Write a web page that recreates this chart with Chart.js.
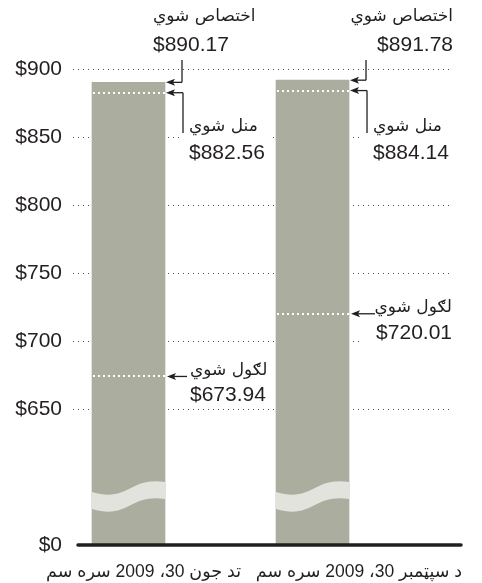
<!DOCTYPE html>
<html lang="ps">
  <head>
    <meta charset="utf-8">
    <title>Budget chart</title>
    <script src="https://cdn.jsdelivr.net/npm/chart.js@4.4.1/dist/chart.umd.min.js"></script>
    <style>
      html, body { margin: 0; padding: 0; background: #fff; }
      canvas { display: block; }
    </style>
  </head>
  <body>
    <canvas id="myChart" width="482" height="583"></canvas>
    <script>
      // data
      var dates = ['تد جون 30، 2009 سره سم', 'د سپټمبر 30، 2009 سره سم'];
      var allocated = [890.17, 891.78];   // اختصاص شوي
      var accepted = [882.56, 884.14];    // منل شوي
      var spent = [673.94, 720.01];       // لګول شوي
      var seriesNames = ['اختصاص شوي', 'منل شوي', 'لګول شوي'];
      var yMin = 550;   // shown as $0 (broken axis)
      var yMax = 900;

      var ink = '#231f20';
      var barColor = '#abae9e';
      var numFont = '21px "Liberation Sans", Arial, sans-serif';
      var arFont = '17px "DejaVu Sans", "Liberation Sans", sans-serif';

      function money(v) { return '$' + v.toFixed(2); }

      function arrow(ctx, tipX, y, fromX) {
        ctx.beginPath();
        ctx.moveTo(fromX, y);
        ctx.lineTo(tipX + 6, y);
        ctx.stroke();
        ctx.beginPath();
        ctx.moveTo(tipX, y);
        ctx.lineTo(tipX + 9, y - 3.5);
        ctx.lineTo(tipX + 7, y);
        ctx.lineTo(tipX + 9, y + 3.5);
        ctx.closePath();
        ctx.fill();
      }

      // text block, two lines, with white box behind so gridlines stop
      function label(ctx, lines, x, ys, align, boxPad) {
        ctx.font = arFont;
        var w1 = ctx.measureText(lines[0]).width;
        ctx.font = numFont;
        var w2 = ctx.measureText(lines[1]).width;
        var w = Math.max(w1, w2);
        var left = align === 'left' ? x : x - w;
        ctx.fillStyle = '#fff';
        ctx.fillRect(left - boxPad[0], ys[0] - 12, w + boxPad[0] + boxPad[1], ys[1] - ys[0] + 24);
        ctx.fillStyle = ink;
        ctx.textAlign = align;
        ctx.textBaseline = 'middle';
        ctx.font = arFont;
        ctx.fillText(lines[0], x, ys[0]);
        ctx.font = numFont;
        ctx.fillText(lines[1], x, ys[1]);
      }

      var annotate = {
        id: 'annotate',
        afterDatasetsDraw: function(chart) {
          var ctx = chart.ctx;
          var y = chart.scales.y;
          var area = chart.chartArea;
          var meta = chart.getDatasetMeta(0);
          var base = y.getPixelForValue(yMin);
          ctx.save();

          meta.data.forEach(function(bar, i) {
            var half = bar.width / 2;
            var L = bar.x - half, R = bar.x + half, w = R - L;

            // white dotted lines inside bars
            ctx.strokeStyle = '#fff';
            ctx.lineWidth = 2;
            ctx.setLineDash([2, 3]);
            [accepted[i], spent[i]].forEach(function(v) {
              var py = Math.round(y.getPixelForValue(v));
              ctx.beginPath();
              ctx.moveTo(L + 1, py);
              ctx.lineTo(R, py);
              ctx.stroke();
            });
            ctx.setLineDash([]);

            // axis break wave
            var t = 17;
            ctx.fillStyle = '#e1e3dc';
            ctx.beginPath();
            ctx.moveTo(L, base - 53);
            ctx.bezierCurveTo(L + 0.5 * w, base - 42, L + 0.5 * w, base - 68, R, base - 63);
            ctx.lineTo(R, base - 63 + t);
            ctx.bezierCurveTo(L + 0.5 * w, base - 68 + t, L + 0.5 * w, base - 42 + t, L, base - 53 + t);
            ctx.closePath();
            ctx.fill();
          });

          ctx.strokeStyle = ink;
          ctx.fillStyle = ink;
          ctx.lineWidth = 1.3;

          meta.data.forEach(function(bar, i) {
            var R = bar.x + bar.width / 2;
            var pHigh = y.getPixelForValue(allocated[i]);
            var pAvg = y.getPixelForValue(accepted[i]);
            var pLow = y.getPixelForValue(spent[i]);
            var topY = area.top;

            // allocated
            ctx.strokeStyle = ink;
            ctx.fillStyle = ink;
            ctx.beginPath();
            ctx.moveTo(R + 17, topY - 9);
            ctx.lineTo(R + 17, pHigh);
            ctx.stroke();
            arrow(ctx, R + 1, pHigh, R + 17);
            if (i === 0) {
              label(ctx, [seriesNames[0], money(allocated[i])], R - 12, [topY - 52, topY - 24], 'left', [0, 0]);
            } else {
              label(ctx, [seriesNames[0], money(allocated[i])], area.right + 1, [topY - 52, topY - 24], 'right', [0, 0]);
            }

            // accepted
            ctx.strokeStyle = ink;
            ctx.fillStyle = ink;
            label(ctx, [seriesNames[1], money(accepted[i])], R + 24, [topY + 58, topY + 84], 'left', [10, i === 0 ? 5 : 30]);
            ctx.strokeStyle = ink;
            ctx.fillStyle = ink;
            ctx.beginPath();
            ctx.moveTo(R + 18, pAvg);
            ctx.lineTo(R + 18, topY + 64);
            ctx.stroke();
            arrow(ctx, R + 1, pAvg, R + 18);

            // spent
            var ys = [pLow - 6, pLow + 19];
            if (i === 0) {
              label(ctx, [seriesNames[2], money(spent[i])], R + 25, ys, 'left', [4, 5]);
              ctx.strokeStyle = ink;
              ctx.fillStyle = ink;
              arrow(ctx, R + 2, pLow, R + 22);
            } else {
              label(ctx, [seriesNames[2], money(spent[i])], area.right, ys, 'right', [12, 2]);
              ctx.strokeStyle = ink;
              ctx.fillStyle = ink;
              arrow(ctx, R + 2, pLow, R + 26);
            }

            // category label under the bar (right aligned)
            ctx.fillStyle = ink;
            ctx.font = '17.5px "Liberation Sans", "DejaVu Sans", sans-serif';
            ctx.direction = 'rtl';
            ctx.textBaseline = 'middle';
            ctx.textAlign = 'right';
            ctx.fillText(dates[i], i === 0 ? R + 76 : area.right + 10, base + 27);
            ctx.direction = 'ltr';
          });

          // $0 baseline
          ctx.strokeStyle = ink;
          ctx.lineWidth = 3.5;
          ctx.lineCap = 'round';
          ctx.beginPath();
          ctx.moveTo(area.left + 5, base);
          ctx.lineTo(area.right + 9, base);
          ctx.stroke();
          ctx.restore();
        }
      };

      var ctx = document.getElementById('myChart').getContext('2d');
      var myChart = new Chart(ctx, {
        type: 'bar',
        data: {
          datasets: [{
            label: seriesNames[0],
            data: allocated.map(function(v, i) { return { x: i, y: v }; }),
            backgroundColor: barColor,
            borderWidth: 0,
            barThickness: 73
          }]
        },
        options: {
          responsive: false,
          animation: false,
          layout: { padding: { top: 69, right: 30, bottom: 38, left: 0 } },
          plugins: {
            legend: { display: false },
            tooltip: { enabled: false }
          },
          scales: {
            x: {
              type: 'linear',
              display: false,
              offset: false,
              min: -0.3016,
              max: 1.758
            },
            y: {
              min: yMin,
              max: yMax,
              afterFit: function(scale) { scale.width = 73; },
              border: { display: false, dash: [1, 4] },
              grid: {
                drawTicks: false,
                color: function(c) {
                  return c.tick && c.tick.value >= 650 ? '#555' : 'rgba(0,0,0,0)';
                }
              },
              ticks: {
                stepSize: 50,
                padding: 11,
                color: ink,
                font: { family: '"Liberation Sans", Arial, sans-serif', size: 21 },
                callback: function(v) {
                  if (v === yMin) return '$0';
                  if (v < 650) return '';
                  return '$' + v;
                }
              }
            }
          }
        },
        plugins: [annotate]
      });
    </script>
  </body>
</html>
